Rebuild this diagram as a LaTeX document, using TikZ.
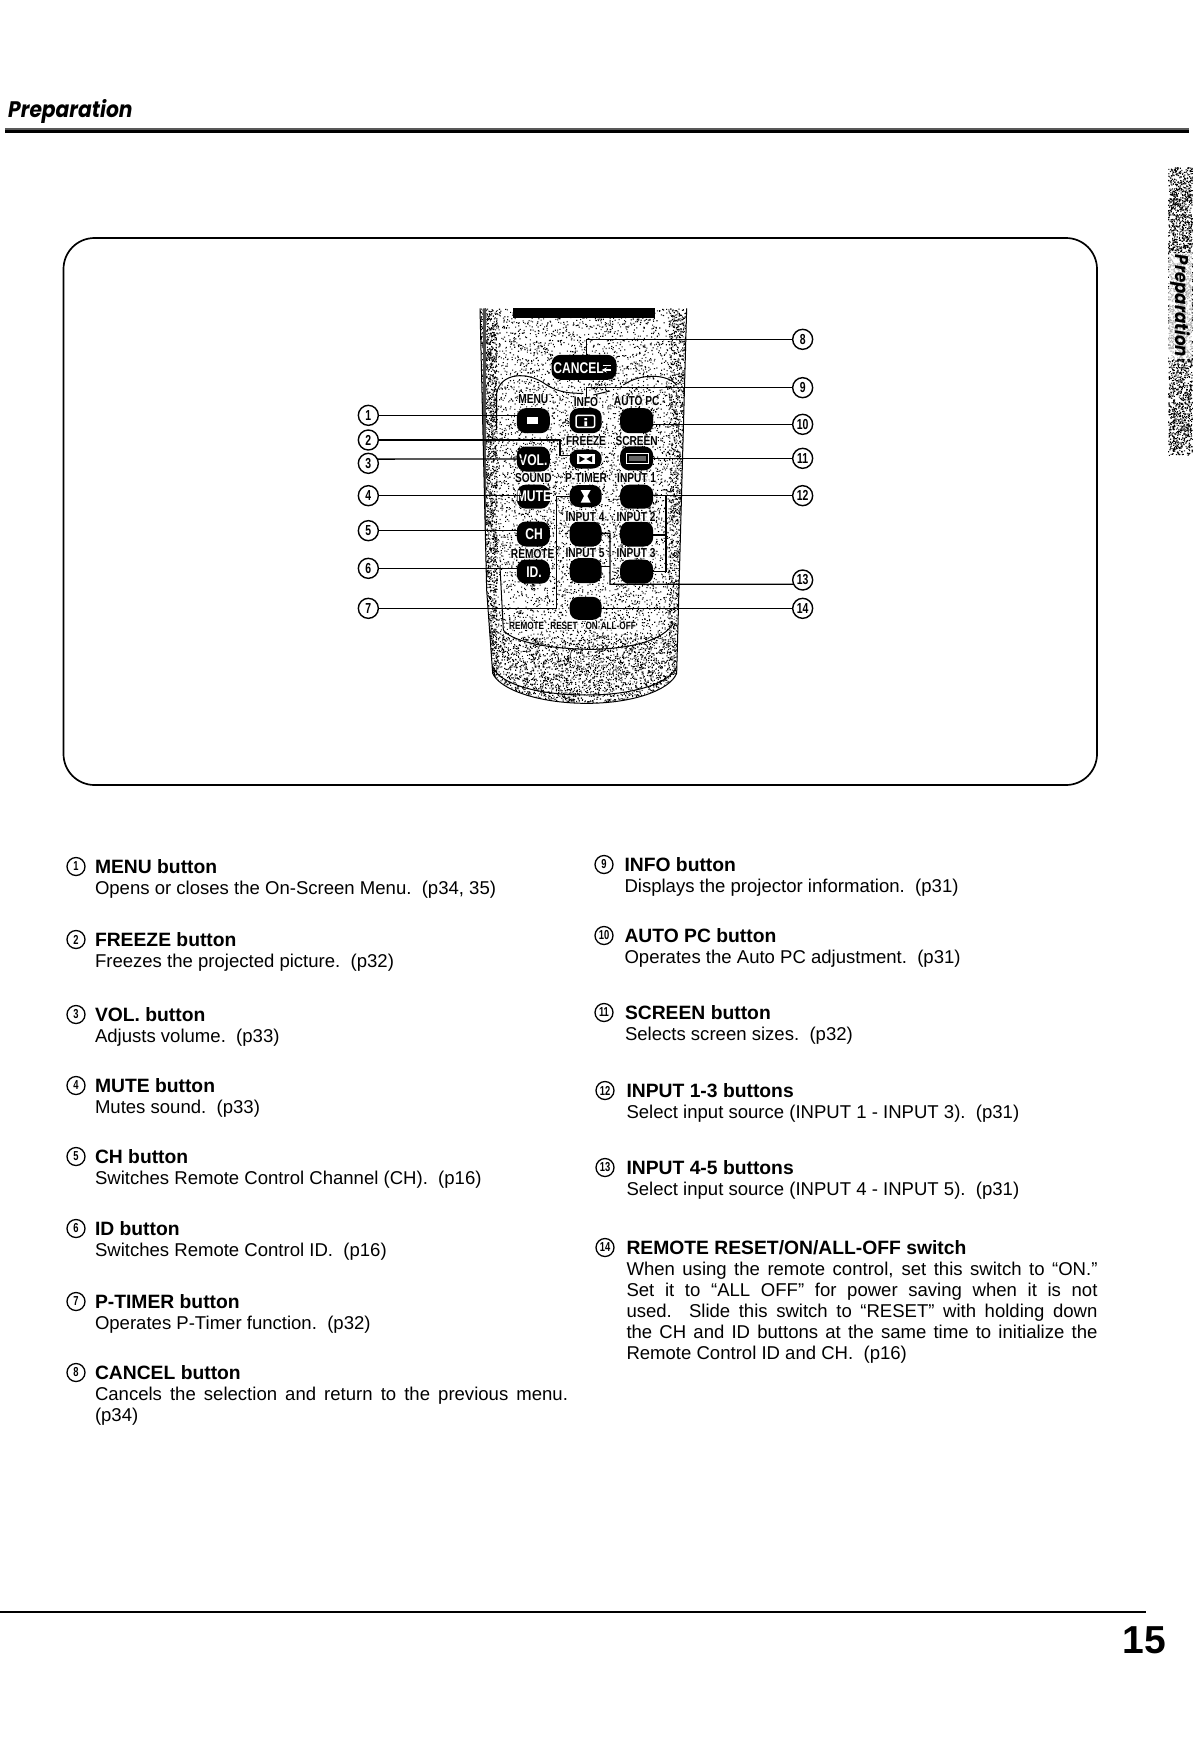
\documentclass[tikz,border=0pt]{standalone}
\usepackage{fontspec}
\setmainfont{Liberation Sans}
\newfontfamily\hdfont{Poppins}[FakeStretch=0.9]
\newfontfamily\remfont{Liberation Sans}[FakeStretch=0.78]
\newfontfamily\numfont{Liberation Sans}[FakeStretch=0.72]
\tikzset{
  bodytxt/.style={anchor=base west,inner sep=0pt,outer sep=0pt,font=\fontsize{18.55}{21}\selectfont},
  titletxt/.style={anchor=base west,inner sep=0pt,outer sep=0pt,font=\bfseries\fontsize{19.3}{21}\selectfont},
  listnum/.style={circle,draw=black,line width=1.3pt,minimum size=18pt,inner sep=0pt,outer sep=0pt,font=\numfont\bfseries\fontsize{13}{13}\selectfont},
  callout/.style={circle,draw=black,line width=1.4pt,minimum size=20pt,inner sep=0pt,outer sep=0pt,font=\numfont\bfseries\fontsize{14.5}{15}\selectfont},
  leader/.style={draw=black,line width=1.3pt,line join=miter},
  btnsty/.style={fill=black,draw=none,rounded corners=9pt,inner sep=0pt},
  lab/.style={inner sep=0.5pt,fill=white,fill opacity=.7,text opacity=1,font=\remfont\bfseries\fontsize{13}{13}\selectfont},
  smalllab/.style={lab,font=\remfont\bfseries\fontsize{10.5}{11}\selectfont},
  btxt/.style={inner sep=0pt,text=white,font=\remfont\bfseries\fontsize{15.5}{16}\selectfont},
  dot/.style={fill=black,draw=none}
}
\newcommand\stip[6]{% batches of 200, x0, w, y0, h, size
  \foreach \j in {1,...,#1}{\fill[dot] foreach \i in {1,...,200}{({#2+#3*rnd},{#4+#5*rnd}) rectangle ++(#6,#6)};}
}
\newcommand\ent[7]{% id, xc, xt, ytitle, num, title, body
  \node[listnum] (c#1) at (#2,#4-9.5) {#5};
  \node[titletxt] (t#1) at (#3,#4-3) {#6};
  \node[bodytxt] (d#1) at (#3,#4+18) {#7};
}
\newcommand\rbtn[5]{\node[btnsty,minimum width=#4pt,minimum height=#5pt] (#1) at (#2,#3) {};}
\begin{document}
\begin{tikzpicture}[x=1pt,y=-1pt]
\useasboundingbox[fill=white] (0,0) rectangle (1192,1738);
\pgfmathsetseed{4217}
% header
\node[anchor=base west,inner sep=0pt,font=\hdfont\bfseries\itshape\fontsize{22.5}{24}\selectfont] (hdr) at (8,117) {Preparation};
\draw[line width=2pt,black!65] (5,129.3) coordinate (rl2) -- (1189,129.3) coordinate (rr2);
\draw[line width=2.6pt] (5,131.6) coordinate (rl) -- (1189,131.6) coordinate (rr);
% side tab
\stip{13}{1168}{24}{167}{288}{1.1}
\node[rotate=-90,inner sep=1.5pt,fill=white,fill opacity=.7,text opacity=1,font=\hdfont\bfseries\itshape\fontsize{18.5}{20}\selectfont] (tab) at (1180.5,306) {Preparation};
% frame
\draw[line width=1.7pt,rounded corners=31pt] (63.5,238) rectangle (1097,785);
% remote, in zoom units
\begin{scope}[x=0.33333pt,y=-0.33333pt,shift={(340pt,-290pt)}]
 \begin{scope}
  \clip (420,55) -- (440,900) -- (458,1150) .. controls (480,1200) and (600,1240) .. (740,1240) .. controls (880,1240) and (990,1200) .. (1010,1150) -- (1040,55) -- cycle;
  \stip{40}{420}{620}{55}{1185}{3.2}
  \stip{9}{420}{50}{55}{1100}{3.2}
  \stip{6}{985}{55}{55}{1100}{3.2}
  \stip{8}{440}{580}{1040}{200}{3.2}
  \fill[black!70] (430,55) rectangle (438,1000);
 \end{scope}
 \draw[line width=1pt] (420,55) -- (440,900) -- (458,1150) .. controls (480,1200) and (600,1240) .. (740,1240) .. controls (880,1240) and (990,1200) .. (1010,1150) -- (1040,55);
 \draw[line width=1pt] (458,1130) .. controls (480,1185) and (600,1215) .. (740,1215) .. controls (880,1215) and (990,1180) .. (1010,1130);
 \draw[line width=1pt] (470,420) -- (470,310) .. controls (480,250) and (560,240) .. (620,285) .. controls (660,310) and (700,310) .. (730,310);
 \draw[line width=1pt] (760,315) -- (810,303);
 \draw[line width=1pt] (850,285) .. controls (900,250) and (980,250) .. (1010,285);
 \draw[line width=1pt] (480,830) -- (490,1020) .. controls (520,1060) and (650,1078) .. (760,1078) .. controls (880,1075) and (970,1050) .. (1000,1000);
 \fill[black] (520,55) rectangle (945,85);
 % buttons
 \rbtn{bcancel}{732}{232}{65}{25}
 \rbtn{bmenu}{580}{392}{33}{25}
 \rbtn{binfo}{737}{392}{32}{25}
 \rbtn{bauto}{890}{392}{33}{25}
 \rbtn{bvol}{580}{507}{33}{25}
 \rbtn{bfreeze}{737}{507}{32}{19}
 \rbtn{bscreen}{890}{505}{33}{24}
 \rbtn{bmute}{580}{620}{33}{24}
 \rbtn{btimer}{737}{618}{32}{22}
 \rbtn{binA}{890}{620}{33}{24}
 \rbtn{bch}{580}{732}{33}{25}
 \rbtn{binD}{737}{732}{32}{25}
 \rbtn{binB}{890}{732}{33}{25}
 \rbtn{bid}{580}{845}{33}{24}
 \rbtn{binE}{737}{842}{32}{25}
 \rbtn{binC}{890}{845}{33}{24}
 \rbtn{bsw}{737}{955}{32}{23}
 % button glyphs
 \node[btxt] (tcancel) at (716,234) {CANCEL};
 \draw[white,line width=1.3pt,-stealth] (790,226) -- (812,226) (812,240) -- (785,240);
 \fill[white] (562,382) rectangle (595,402);
 \draw[white,line width=1.5pt,rounded corners=2pt] (708,376) rectangle (764,412);
 \fill[white] (733,384) rectangle (741,390) (733,394) rectangle (741,408);
 \draw[white,line width=1.5pt,fill=white] (712,495) rectangle (762,520);
 \fill[black] (718,498) -- (735,507) -- (718,517) -- cycle (756,498) -- (739,507) -- (756,517) -- cycle;
 \draw[white,line width=1.5pt] (860,490) rectangle (925,520);
 \fill[black!60] (868,497) rectangle (917,514);
 \fill[white] (722,600) -- (752,600) -- (742,618) -- (752,638) -- (722,638) -- (732,618) -- cycle;
 \node[btxt] (tvol) at (580,510) {VOL.};
 \node[btxt] (tmute) at (582,620) {MUTE};
 \node[btxt] (tch) at (582,732) {CH};
 \node[btxt] (tid) at (582,846) {ID.};
 % labels
 \node[lab] (lmenu) at (580,327) {MENU};
 \node[lab] (linfo) at (738,336) {INFO};
 \node[lab] (lauto) at (890,333) {AUTO PC};
 \node[lab] (lfreeze) at (738,453) {FREEZE};
 \node[lab] (lscreen) at (890,453) {SCREEN};
 \node[lab] (lsound) at (580,565) {SOUND};
 \node[lab] (ltimer) at (738,565) {P-TIMER};
 \node[lab] (lina) at (890,563) {INPUT 1};
 \node[lab] (lind) at (735,680) {INPUT 4};
 \node[lab] (linb) at (888,680) {INPUT 2};
 \node[lab] (lrem) at (578,792) {REMOTE};
 \node[lab] (line) at (735,790) {INPUT 5};
 \node[lab] (linc) at (888,790) {INPUT 3};
 \node[smalllab] (sw1) at (560,1008) {REMOTE};
 \node[smalllab] (sw2) at (672,1008) {RESET};
 \node[smalllab] (sw3) at (755,1008) {ON};
 \node[smalllab] (sw4) at (835,1008) {ALL-OFF};
 % callouts
 \node[callout] (n1) at (85,376) {1};
 \node[callout] (n2) at (85,450) {2};
 \node[callout] (n3) at (85,520) {3};
 \node[callout] (n4) at (85,617) {4};
 \node[callout] (n5) at (85,722) {5};
 \node[callout] (n6) at (85,835) {6};
 \node[callout] (n7) at (85,955) {7};
 \node[callout] (n8) at (1388,148) {8};
 \node[callout] (n9) at (1388,293) {9};
 \node[callout] (n10) at (1388,403) {10};
 \node[callout] (n11) at (1388,505) {11};
 \node[callout] (n12) at (1388,617) {12};
 \node[callout] (n13) at (1388,870) {13};
 \node[callout] (n14) at (1388,955) {14};
 \coordinate (e1) at (555,376);
 \coordinate (a2) at (660,450); \coordinate (b2) at (660,497); \coordinate (e2) at (710,497);
 \coordinate (e3) at (550,507);
 \coordinate (e4) at (545,617);
 \coordinate (e5) at (545,722);
 \coordinate (e6) at (545,835);
 \coordinate (a7) at (650,955); \coordinate (b7) at (650,620); \coordinate (e7) at (700,620);
 \coordinate (a8) at (740,148); \coordinate (e8) at (740,195);
 \coordinate (a9) at (740,293); \coordinate (e9) at (740,322);
 \coordinate (e10) at (930,403);
 \coordinate (e11) at (930,505);
 \coordinate (a12) at (978,617); \coordinate (e12) at (925,617);
 \coordinate (m12) at (978,735); \coordinate (f12) at (925,735);
 \coordinate (c12) at (978,845); \coordinate (g12) at (925,845);
 \coordinate (a13) at (810,883); \coordinate (m13) at (810,830); \coordinate (f13) at (770,830);
 \coordinate (c13) at (810,730); \coordinate (g13) at (770,730);
 \coordinate (e14) at (745,955);
 \draw[leader] (n1) -- (e1);
 \draw[leader] (n2) -- (a2) -- (b2) -- (e2);
 \draw[leader] (n3.25) -- (e3);
 \draw[leader] (n4) -- (e4);
 \draw[leader] (n5) -- (e5);
 \draw[leader] (n6) -- (e6);
 \draw[leader] (n7) -- (a7) -- (b7) -- (e7);
 \draw[leader] (n8) -- (a8) -- (e8);
 \draw[leader] (n9) -- (a9) -- (e9);
 \draw[leader] (n10) -- (e10);
 \draw[leader] (n11) -- (e11);
 \draw[leader] (n12) -- (e12);
 \draw[leader] (a12) -- (c12) -- (g12);
 \draw[leader] (m12) -- (f12);
 \draw[leader] (n13.205) -- (a13) -- (c13) -- (g13);
 \draw[leader] (m13) -- (f13);
 \draw[leader] (n14) -- (e14);
\end{scope}
% left list
\ent{1}{76}{95}{876}{1}{MENU button}{Opens or closes the On-Screen Menu.\ \ (p34, 35)}
\ent{2}{76}{95}{949}{2}{FREEZE button}{Freezes the projected picture.\ \ (p32)}
\ent{3}{76}{95}{1024}{3}{VOL. button}{Adjusts volume.\ \ (p33)}
\ent{4}{76}{95}{1095}{4}{MUTE button}{Mutes sound.\ \ (p33)}
\ent{5}{76}{95}{1166}{5}{CH button}{Switches Remote Control Channel (CH).\ \ (p16)}
\ent{6}{76}{95}{1238}{6}{ID button}{Switches Remote Control ID.\ \ (p16)}
\ent{7}{76}{95}{1311}{7}{P-TIMER button}{Operates P-Timer function.\ \ (p32)}
\ent{8}{76}{95}{1382}{8}{CANCEL button}{\vtop{\hbox to 473pt{Cancels the selection and return to the previous menu.}\hbox{(p34)}}}
% right list
\ent{9}{604}{624.5}{874}{9}{INFO button}{Displays the projector information.\ \ (p31)}
\ent{10}{604}{624.5}{945}{10}{AUTO PC button}{Operates the Auto PC adjustment.\ \ (p31)}
\ent{11}{604}{625}{1022}{11}{SCREEN button}{Selects screen sizes.\ \ (p32)}
\ent{12}{605}{626.5}{1100}{12}{INPUT 1-3 buttons}{Select input source (INPUT 1 - INPUT 3).\ \ (p31)}
\ent{13}{605}{626.5}{1177}{13}{INPUT 4-5 buttons}{Select input source (INPUT 4 - INPUT 5).\ \ (p31)}
\ent{14}{605}{626.5}{1257}{14}{REMOTE RESET/ON/ALL-OFF switch}{\vtop{\hbox to 471pt{When using the remote control, set this switch to “ON.”}
\hbox to 471pt{Set it to “ALL OFF” for power saving when it is not}
\hbox to 471pt{used.\ \ Slide this switch to “RESET” with holding down}
\hbox to 471pt{the CH and ID buttons at the same time to initialize the}
\hbox{Remote Control ID and CH.\ \ (p16)}}}
% footer
\draw[line width=2pt] (0,1612) coordinate (fl) -- (1146,1612) coordinate (fr);
\node[anchor=base east,inner sep=0pt,font=\bfseries\fontsize{39}{42}\selectfont] (pg) at (1166,1653) {15};
\end{tikzpicture}
\end{document}
